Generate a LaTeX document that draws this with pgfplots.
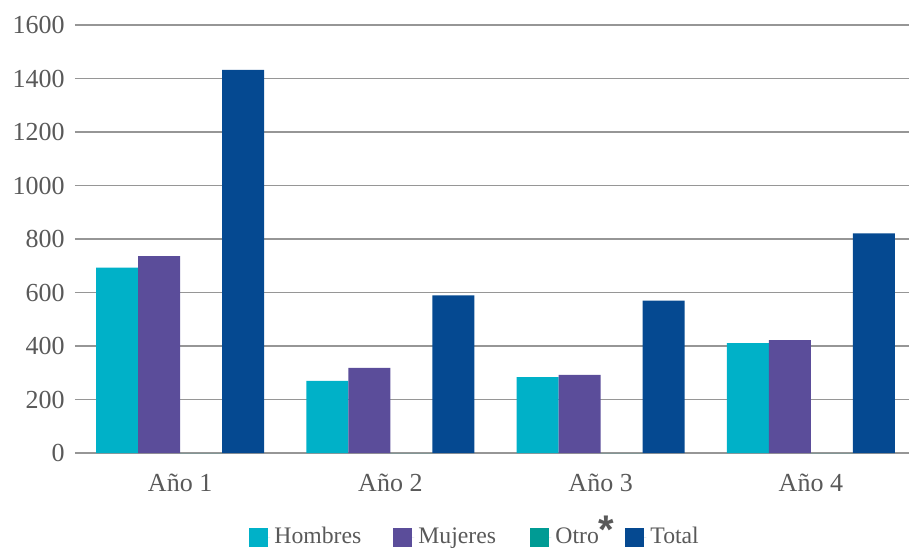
\documentclass[border=0pt]{standalone}
\usepackage{fontspec}
\setmainfont{Liberation Serif}
\newfontfamily\starfont{Liberation Sans}
\usepackage{pgfplots}
\pgfplotsset{compat=1.18}

\definecolor{hombres}{RGB}{0,177,200}
\definecolor{mujeres}{RGB}{91,77,154}
\definecolor{otro}{RGB}{0,155,148}
\definecolor{total}{RGB}{5,73,145}
\definecolor{textgray}{RGB}{89,89,89}
\definecolor{gridgray}{RGB}{150,150,150}

\pgfplotsset{
  sq legend/.style={
    legend image code/.code={
      \fill[##1, draw=none] (0pt,-4.75pt) rectangle (9.5pt,4.75pt);
      \path (0pt,0pt) -- (10.5pt,0pt);
    }
  }
}

\begin{document}
\begin{tikzpicture}
\path[use as bounding box] (-37.5pt,-47.5pt) rectangle (417pt,226.5pt);
\begin{axis}[
  at={(0,0)}, anchor=south west,
  scale only axis, width=420.5pt, height=214pt,
  ybar=0pt, bar width=21pt,
  xmin=-0.5, xmax=3.5, ymin=0, ymax=1600,
  xtick={0,1,2,3},
  xticklabels={Año 1, Año 2, Año 3, Año 4},
  ytick={0,200,...,1600},
  ymajorgrids,
  grid style={draw=gridgray, line width=0.75pt},
  axis line style={draw=none},
  major tick length=0pt,
  /pgf/number format/assume math mode=true,
  /pgf/number format/1000 sep={},
  yticklabel style={font=\fontsize{13}{15}\selectfont, text=textgray, inner sep=0pt, xshift=-5pt},
  xticklabel style={font=\fontsize{13}{15}\selectfont, text=textgray, inner sep=0pt, yshift=-10.5pt},
  legend columns=4,
  legend style={
    at={(0.2074,-0.1963)}, anchor=west,
    draw=none, fill=none, inner sep=0pt, outer sep=0pt,
    font=\fontsize{11.85}{14}\selectfont, text=textgray,
    /tikz/every even column/.append style={column sep=0pt},
  },
  legend cell align=left,
]
% Hombres
\addplot[fill=hombres, draw=none, sq legend] coordinates {(0,693) (1,270) (2,284) (3,411)};
% Mujeres
\addplot[fill=mujeres, draw=none, sq legend] coordinates {(0,736) (1,318) (2,292) (3,422)};
% Otro (no registrations)
\addplot[fill=otro, draw=none, sq legend] coordinates {(0,0) (1,0) (2,0) (3,0)};
% Total
\addplot[fill=total, draw=none, sq legend] coordinates {(0,1432) (1,589) (2,570) (3,821)};
\legend{
  \makebox[57.5pt][l]{Hombres},
  \makebox[54pt][l]{Mujeres},
  \makebox[33pt][l]{Otro\smash{\starfont\bfseries\fontsize{20}{20}\selectfont *}},
  Total}
\end{axis}
\end{tikzpicture}
\end{document}
